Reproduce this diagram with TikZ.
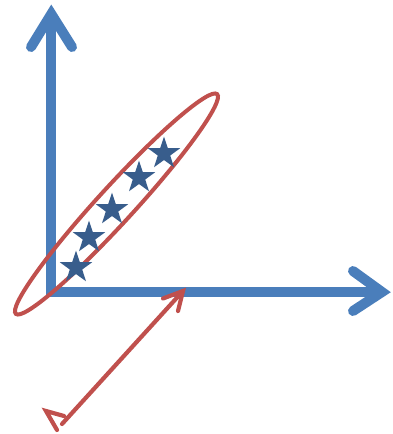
\documentclass[tikz,border=0pt]{standalone}
\usetikzlibrary{shapes.geometric}
\definecolor{axisblue}{RGB}{74,126,187}
\definecolor{starblue}{RGB}{56,93,140}
\definecolor{ovalred}{RGB}{192,80,77}
\tikzset{
  axisline/.style={draw=axisblue, line width=10pt, line join=miter, line cap=round},
  oval/.style={draw=ovalred, line width=4pt},
  redarrow/.style={draw=ovalred, line width=4.2pt, line join=miter, line cap=round},
  starmark/.style={star, star points=5, star point ratio=2.6, fill=starblue, draw=none, inner sep=0pt, minimum size=34pt},
}
\begin{document}
\begin{tikzpicture}[x={(1pt,0)}, y={(0,-1pt)}]
\useasboundingbox (0,0) rectangle (393,434);
% axes
\coordinate (ytip) at (51.3,14);
\coordinate (origin) at (51.3,292);
\coordinate (xtip) at (382,292);
\coordinate (yl) at (31,47);
\coordinate (yr) at (72,47);
\coordinate (xu) at (353,271);
\coordinate (xd) at (353,311);
\draw[axisline, line cap=butt] (ytip) -- (origin) -- (xtip);
\draw[axisline] (yl) -- (ytip) -- (yr);
\draw[axisline] (xu) -- (xtip) -- (xd);
% ellipse
\coordinate (oc) at (116.5,204);
\draw[oval, rotate around={47.5:(oc)}] (oc) ellipse [x radius=149pt, y radius=18pt];
% stars
\node[starmark] (s1) at (76,267.5) {};
\node[starmark] (s2) at (89,237.5) {};
\node[starmark] (s3) at (112,209.5) {};
\node[starmark] (s4) at (139,177.5) {};
\node[starmark] (s5) at (164,153.5) {};
% red double arrow
\coordinate (atop) at (183,291);
\coordinate (abot) at (62,424);
\coordinate (t1) at (163,298.5);
\coordinate (t2) at (178,311);
\coordinate (btip) at (46,411);
\coordinate (b1) at (64,416);
\coordinate (b2) at (57,430);
\draw[redarrow] (atop) -- (abot);
\draw[redarrow] (t1) -- (atop) -- (t2);
\draw[redarrow] (b1) -- (btip) -- (b2);
\end{tikzpicture}
\end{document}
